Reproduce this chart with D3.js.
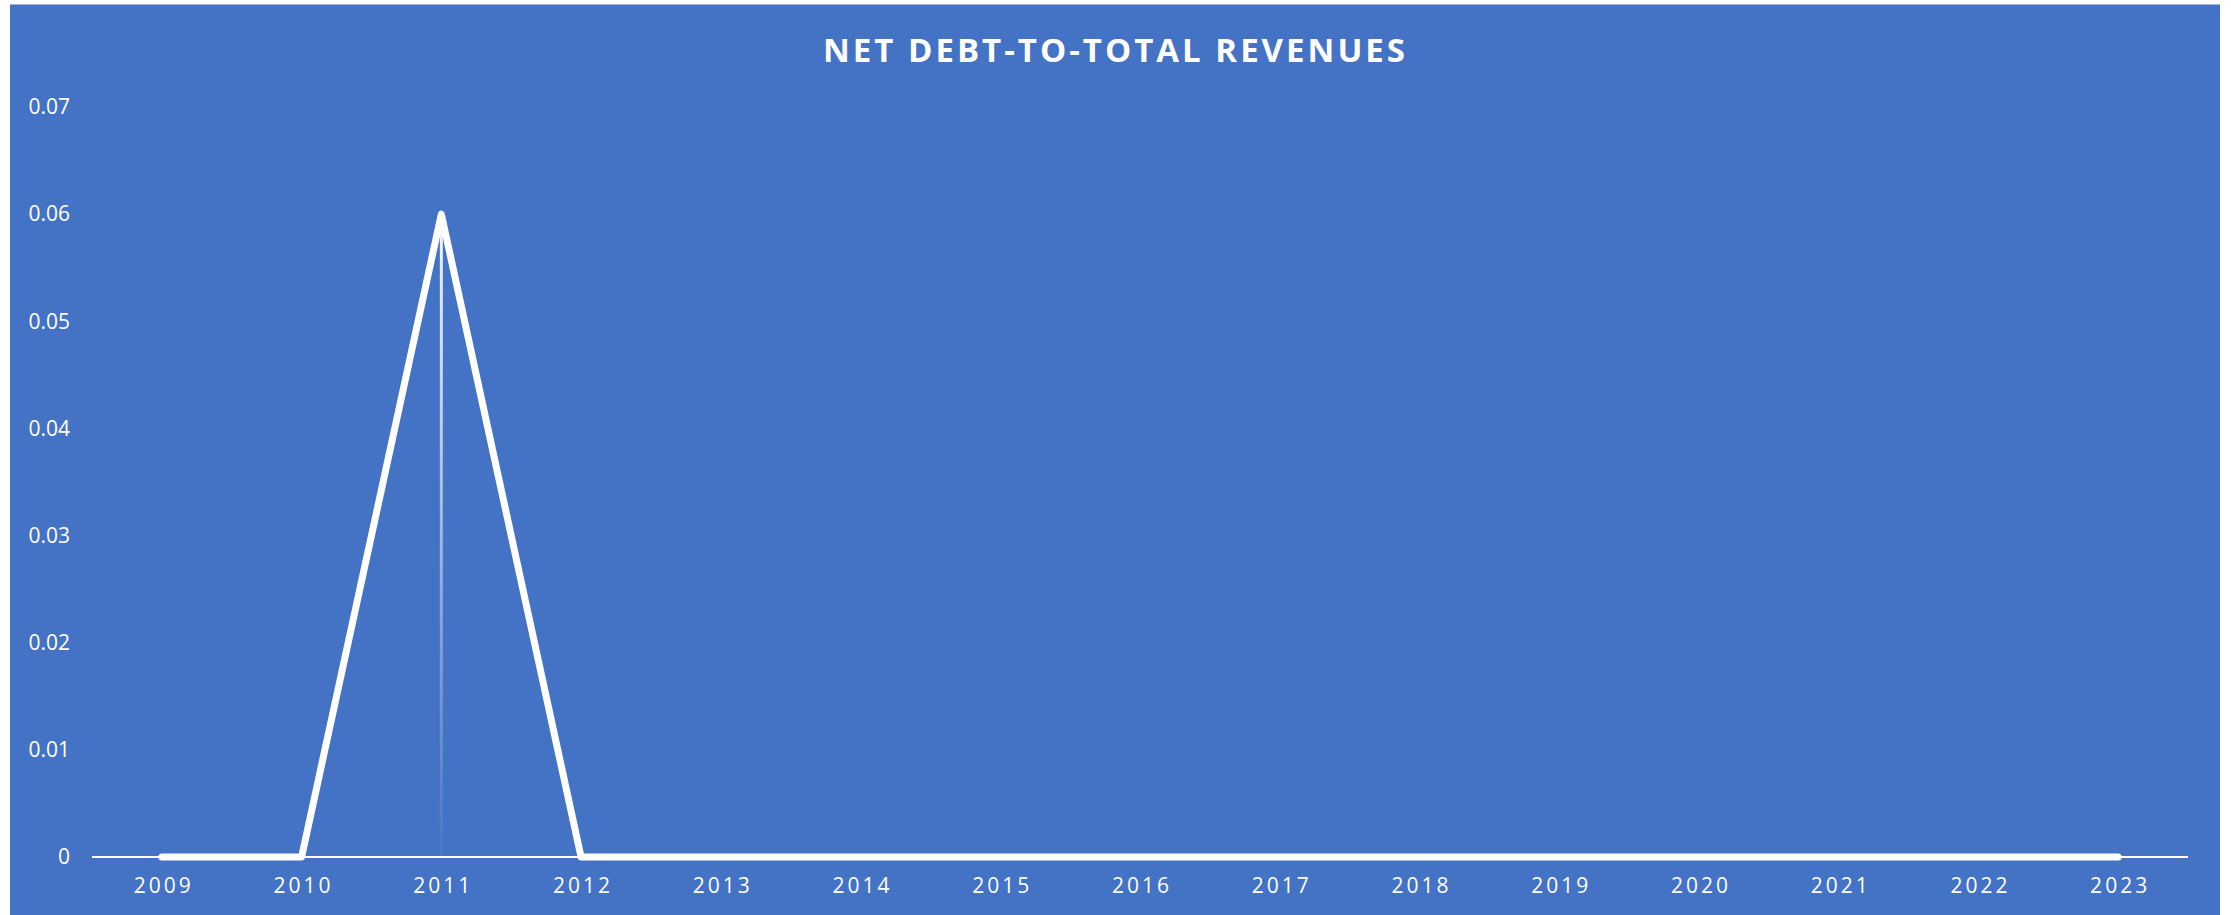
<!DOCTYPE html>
<html>
<head>
<meta charset="utf-8">
<script src="https://cdn.jsdelivr.net/npm/d3@7"></script>
<style>
  body { margin: 0; background: #fff; }
  svg { display: block; }
  text { font-family: "Open Sans", "Noto Sans", sans-serif; fill: #fff; }
</style>
</head>
<body>
<div id="chart"></div>
<script>

var years = ["2009", "2010", "2011", "2012", "2013", "2014", "2015", "2016",
             "2017", "2018", "2019", "2020", "2021", "2022", "2023"];
var netDebtToRevenue = [0, 0, 0.06, 0, 0, 0, 0, 0, 0, 0, 0, 0, 0, 0, 0];
var yTicks = [0, 0.01, 0.02, 0.03, 0.04, 0.05, 0.06, 0.07];
var chartTitle = "NET DEBT-TO-TOTAL REVENUES";

var width  = 2231;
var height = 915;
var BLUE   = "#4472C4";

var dataset = years.map(function(y, i) {
    return {year: y, value: netDebtToRevenue[i]};
});

var svg = d3.select('#chart')
    .append('svg')
    .attr('width', width)
    .attr('height', height);

// chart area background
svg.append('rect')
    .attr('x', 10).attr('y', 4)
    .attr('width', 2210).attr('height', height - 4)
    .attr('fill', BLUE);
svg.append('line')
    .attr('x1', 10).attr('x2', 2220)
    .attr('y1', 4.5).attr('y2', 4.5)
    .attr('stroke', '#9fb6e2').attr('stroke-width', 1);

var x = d3.scalePoint()
    .domain(years)
    .range([92, 2188])
    .padding(0.5);

var y = d3.scaleLinear()
    .domain([0, 0.07])
    .range([857, 107]);

// title
svg.append('text')
    .attr('x', 1114)
    .attr('y', 62)
    .attr('text-anchor', 'middle')
    .attr('font-size', 33)
    .attr('font-weight', 700)
    .attr('textLength', 582)
    .attr('lengthAdjust', 'spacing')
    .text(chartTitle);

// y axis labels
var yAxis = d3.axisLeft(y)
    .tickValues(yTicks)
    .tickSize(0)
    .tickPadding(0)
    .tickFormat(function(d) { return d === 0 ? "0" : d3.format(".2f")(d); });

var gy = svg.append('g')
    .attr('transform', 'translate(70,0)')
    .call(yAxis);
gy.select('.domain').remove();
gy.selectAll('text')
    .attr('font-size', 21)
    .attr('fill', '#fff')
    .style('font-family', '"Open Sans", sans-serif');

// x axis labels
var xAxis = d3.axisBottom(x)
    .tickSize(0)
    .tickPadding(21);

var gx = svg.append('g')
    .attr('transform', 'translate(0,857)')
    .call(xAxis);
gx.select('.domain').remove();
gx.selectAll('text')
    .attr('font-size', 21)
    .attr('fill', '#fff')
    .attr('dx', 1.5)
    .style('letter-spacing', '3px')
    .style('font-family', '"Open Sans", sans-serif');

// baseline
svg.append('line')
    .attr('x1', 92).attr('x2', 2188)
    .attr('y1', y(0)).attr('y2', y(0))
    .attr('stroke', '#fff')
    .attr('stroke-width', 2);

// fading drop line from the peak
var defs = svg.append('defs');
var grad = defs.append('linearGradient')
    .attr('id', 'dropFade')
    .attr('gradientUnits', 'userSpaceOnUse')
    .attr('x1', 0).attr('x2', 0)
    .attr('y1', y(d3.max(netDebtToRevenue))).attr('y2', y(0));
grad.append('stop').attr('offset', '0%').attr('stop-color', '#fff').attr('stop-opacity', 0.95);
grad.append('stop').attr('offset', '100%').attr('stop-color', '#fff').attr('stop-opacity', 0.03);

svg.selectAll('line.drop')
    .data(dataset.filter(function(d) { return d.value > 0; }))
    .enter()
    .append('line')
    .attr('class', 'drop')
    .attr('x1', function(d) { return x(d.year); })
    .attr('x2', function(d) { return x(d.year); })
    .attr('y1', function(d) { return y(d.value); })
    .attr('y2', y(0))
    .attr('stroke', 'url(#dropFade)')
    .attr('stroke-width', 3);

// series line
var line = d3.line()
    .x(function(d) { return x(d.year); })
    .y(function(d) { return y(d.value); });

svg.append('path')
    .datum(dataset)
    .attr('d', line)
    .attr('fill', 'none')
    .attr('stroke', '#fff')
    .attr('stroke-width', 7)
    .attr('stroke-linecap', 'round')
    .attr('stroke-linejoin', 'round');

</script>
</body>
</html>
